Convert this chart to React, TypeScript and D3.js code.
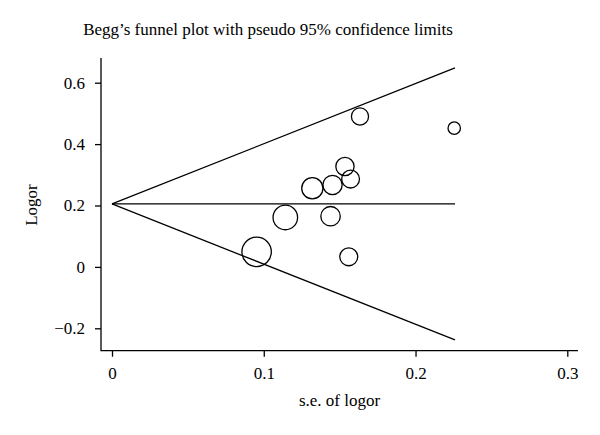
import React, { useEffect, useRef } from "react";
import * as d3 from "d3";

// study estimates
const seLogor = [0.0953, 0.1142, 0.132, 0.144, 0.1453, 0.1535, 0.156, 0.1572, 0.1634, 0.2255];
const logor = [0.049, 0.161, 0.256, 0.165, 0.267, 0.327, 0.033, 0.286, 0.49, 0.452];
const pooled = 0.205;
const seMax = 0.226;
const xTicks = [0, 0.1, 0.2, 0.3];
const yTicks = [-0.2, 0, 0.2, 0.4, 0.6];

const FONT = "'Liberation Serif', 'Times New Roman', serif";

const App = () => {
  const svgRef = useRef<SVGSVGElement>(null);

  useEffect(() => {
    const svg = d3.select(svgRef.current);
    svg.selectAll("*").remove();

    const x = d3.scaleLinear().domain([0, 0.3]).range([112, 567.3]);
    const y = d3.scaleLinear().domain([-0.2, 0.6]).range([328.3, 82.7]);
    // marker area proportional to weight 1/se^2
    const r = d3.scaleSqrt().domain([0, 1 / (0.0953 * 0.0953)]).range([0, 14.7]);

    const left = 101;
    const bottom = 350.7;
    const top = 58;
    const right = 578;

    const fmt = (d: number) => (d === 0 ? "0" : d3.format(".1f")(d));

    // y axis
    const gy = svg
      .append("g")
      .attr("transform", `translate(${left},0)`)
      .call(d3.axisLeft(y).tickValues(yTicks).tickFormat(fmt as any).tickSize(6).tickPadding(10));
    gy.select(".domain").remove();
    gy.selectAll("line").attr("stroke", "#000").attr("stroke-width", 1.3);
    gy.selectAll("text").attr("font-family", FONT).attr("font-size", 17).attr("fill", "#000");

    // x axis
    const gx = svg
      .append("g")
      .attr("transform", `translate(0,${bottom})`)
      .call(d3.axisBottom(x).tickValues(xTicks).tickFormat(fmt as any).tickSize(6).tickPadding(10));
    gx.select(".domain").remove();
    gx.selectAll("line").attr("stroke", "#000").attr("stroke-width", 1.3);
    gx.selectAll("text").attr("font-family", FONT).attr("font-size", 17).attr("fill", "#000");

    svg
      .append("path")
      .attr("d", `M${left},${top}V${bottom}H${right}`)
      .attr("fill", "none")
      .attr("stroke", "#000")
      .attr("stroke-width", 1.3);

    // pseudo 95% confidence limits and pooled estimate
    const lines = [
      [[0, pooled], [seMax, pooled + 1.96 * seMax]],
      [[0, pooled], [seMax, pooled]],
      [[0, pooled], [seMax, pooled - 1.96 * seMax]],
    ];
    const line = d3
      .line<number[]>()
      .x((d) => x(d[0]))
      .y((d) => y(d[1]));
    svg
      .selectAll(".limit")
      .data(lines)
      .enter()
      .append("path")
      .attr("class", "limit")
      .attr("d", (d) => line(d))
      .attr("fill", "none")
      .attr("stroke", "#000")
      .attr("stroke-width", 1.3);

    // studies
    svg
      .selectAll(".study")
      .data(seLogor)
      .enter()
      .append("circle")
      .attr("class", "study")
      .attr("cx", (d) => x(d))
      .attr("cy", (_, i) => y(logor[i]))
      .attr("r", (d) => r(1 / (d * d)))
      .attr("fill", "none")
      .attr("stroke", "#000")
      .attr("stroke-width", 1.3);

    svg
      .append("text")
      .attr("x", 268)
      .attr("y", 35)
      .attr("text-anchor", "middle")
      .attr("font-family", FONT)
      .attr("font-size", 17)
      .text("Begg’s funnel plot with pseudo 95% confidence limits");

    svg
      .append("text")
      .attr("x", (left + right) / 2)
      .attr("y", 406)
      .attr("text-anchor", "middle")
      .attr("font-family", FONT)
      .attr("font-size", 17)
      .text("s.e. of logor");

    svg
      .append("text")
      .attr("transform", `translate(37,205) rotate(-90)`)
      .attr("text-anchor", "middle")
      .attr("font-family", FONT)
      .attr("font-size", 17)
      .text("Logor");
  }, []);

  return (
    <svg
      ref={svgRef}
      width={600}
      height={435}
      style={{ position: "absolute", left: 0, top: 0, background: "#fff" }}
    ></svg>
  );
};

export default App;
